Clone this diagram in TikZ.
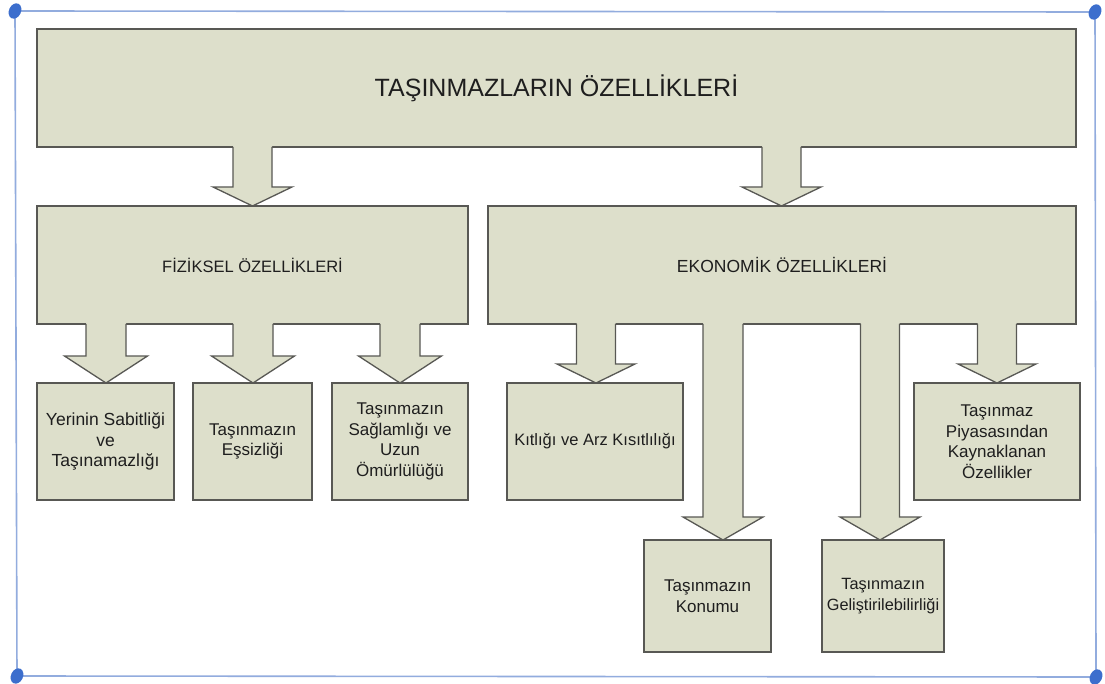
\documentclass[tikz,border=0pt]{standalone}
\usepackage{fontspec}
\setmainfont{Liberation Sans}
\usetikzlibrary{calc}

\definecolor{boxfill}{RGB}{221,223,203}
\definecolor{boxline}{RGB}{88,88,84}
\definecolor{frameline}{RGB}{146,172,222}
\definecolor{framedot}{RGB}{60,110,205}
\definecolor{txt}{RGB}{30,30,30}

\tikzset{
  box/.style={draw=boxline, fill=boxfill, line width=1.3pt, outer sep=0pt,
    inner sep=2pt, anchor=north west, align=center, text=txt,
    font=\fontsize{17}{20.5}\selectfont},
  titlebox/.style={box, font=\fontsize{25}{30}\selectfont},
  headbox/.style={box, font=\fontsize{16.5}{20}\selectfont},
  arrowfill/.style={fill=boxfill},
  arrowline/.style={draw=boxline, line width=1.3pt, line join=miter},
  frame/.style={draw=frameline, line width=1.6pt},
  cornerdot/.style={fill=framedot},
}

% Block arrow from the bottom of #1 to the top of #2.
% #3 axis x, #4 shaft half width, #5 head half width, #6 head length
\newcommand{\blockarrow}[6]{%
  \fill[arrowfill] let \p1=(#1.south), \p2=(#2.north) in
    (#3pt-#4pt, \y1+1pt) -- (#3pt-#4pt, \y2+#6pt) -- (#3pt-#5pt, \y2+#6pt)
    -- (#3pt, \y2) -- (#3pt+#5pt, \y2+#6pt) -- (#3pt+#4pt, \y2+#6pt)
    -- (#3pt+#4pt, \y1+1pt) -- cycle;
  \draw[arrowline] let \p1=(#1.south), \p2=(#2.north) in
    (#3pt-#4pt, \y1) -- (#3pt-#4pt, \y2+#6pt) -- (#3pt-#5pt, \y2+#6pt)
    -- (#3pt, \y2) -- (#3pt+#5pt, \y2+#6pt) -- (#3pt+#4pt, \y2+#6pt)
    -- (#3pt+#4pt, \y1);
}

\begin{document}
\begin{tikzpicture}[x=1pt, y=1pt]
  \fill[white] (0,0) rectangle (1105,-684);
  \useasboundingbox (0,0) rectangle (1105,-684);

  % outer frame with corner handles
  \coordinate (c1) at (15,-11);
  \coordinate (c2) at (1095,-12);
  \coordinate (c3) at (1096,-677);
  \coordinate (c4) at (17,-676);
  \draw[frame] (c1) -- (c2) -- (c3) -- (c4) -- cycle;
  \foreach \c in {c1,c2,c3,c4}
    \fill[cornerdot] (\c) circle[x radius=6, y radius=8, rotate=-25];

  % top level
  \node[titlebox, minimum width=1039pt, minimum height=118pt] (main) at (37,-29)
    {TAŞINMAZLARIN ÖZELLİKLERİ};

  % second level
  \node[headbox, minimum width=431pt, minimum height=118pt] (fiz) at (37,-206)
    {FİZİKSEL ÖZELLİKLERİ};
  \node[headbox, minimum width=588pt, minimum height=118pt,
    font=\fontsize{17.5}{21}\selectfont] (eko) at (488,-206)
    {EKONOMİK ÖZELLİKLERİ};

  % physical properties
  \node[box, minimum width=137pt, minimum height=117pt,
    font=\fontsize{17.5}{20.5}\selectfont] (b1) at (37,-383)
    {Yerinin Sabitliği\\ve\\Taşınamazlığı};
  \node[box, minimum width=119pt, minimum height=117pt] (b2) at (193,-383)
    {Taşınmazın\\Eşsizliği};
  \node[box, minimum width=136pt, minimum height=117pt] (b3) at (332,-383)
    {Taşınmazın\\Sağlamlığı ve\\Uzun\\Ömürlülüğü};

  % economic properties
  \node[box, minimum width=176pt, minimum height=117pt,
    font=\fontsize{16.5}{20}\selectfont] (k1) at (507,-383)
    {Kıtlığı ve Arz Kısıtlılığı};
  \node[box, minimum width=166pt, minimum height=117pt] (k4) at (914,-383)
    {Taşınmaz\\Piyasasından\\Kaynaklanan\\Özellikler};
  \node[box, minimum width=127pt, minimum height=112pt] (k2) at (644,-540)
    {Taşınmazın\\Konumu};
  \node[box, minimum width=122pt, minimum height=112pt,
    font=\fontsize{16.3}{20.5}\selectfont] (k3) at (822,-540)
    {Taşınmazın\\Geliştirilebilirliği};

  % arrows
  \blockarrow{main}{fiz}{252.5}{19.5}{39.5}{19}
  \blockarrow{main}{eko}{781.5}{19.5}{39.5}{19}
  \blockarrow{fiz}{b1}{106}{20}{41.5}{27}
  \blockarrow{fiz}{b2}{253}{20}{41.5}{27}
  \blockarrow{fiz}{b3}{400}{20}{41.5}{27}
  \blockarrow{eko}{k1}{596}{19.5}{39}{19}
  \blockarrow{eko}{k2}{723}{20}{40}{23}
  \blockarrow{eko}{k3}{880}{19.5}{40}{23}
  \blockarrow{eko}{k4}{997}{19.5}{39}{19}
\end{tikzpicture}
\end{document}
